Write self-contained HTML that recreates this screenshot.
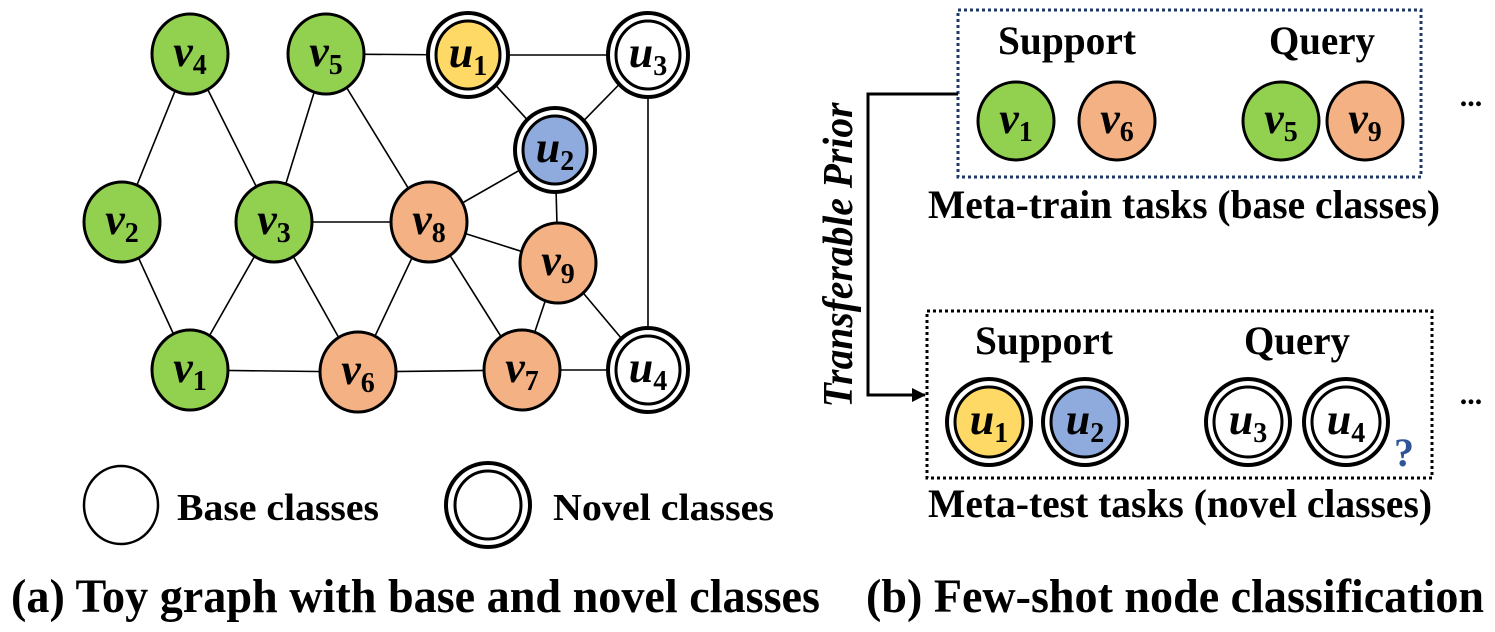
<!DOCTYPE html>
<html><head><meta charset="utf-8"><style>
html,body{margin:0;padding:0;background:#fff;}
svg{display:block;}
text{font-family:"Liberation Serif",serif;font-weight:bold;fill:#000;}
.m{font-style:italic;font-size:44px;}
.s{font-style:normal;font-size:28px;}
</style></head><body>
<svg width="1495" height="632" viewBox="0 0 1495 632" xmlns="http://www.w3.org/2000/svg">
<defs><marker id="ar" markerWidth="14" markerHeight="14" refX="13" refY="7" orient="auto" markerUnits="userSpaceOnUse"><path d="M0,0 L14,7 L0,14 z" fill="#000"/></marker></defs>
<g stroke="#000" stroke-width="1.6">
<line x1="190" y1="54" x2="122" y2="222"/>
<line x1="190" y1="54" x2="274" y2="222"/>
<line x1="122" y1="222" x2="190" y2="370"/>
<line x1="274" y1="222" x2="190" y2="370"/>
<line x1="326" y1="54" x2="274" y2="222"/>
<line x1="326" y1="54" x2="468" y2="55"/>
<line x1="326" y1="54" x2="429" y2="222"/>
<line x1="468" y1="55" x2="648" y2="55"/>
<line x1="468" y1="55" x2="555" y2="150"/>
<line x1="648" y1="55" x2="555" y2="150"/>
<line x1="648" y1="55" x2="648" y2="370"/>
<line x1="555" y1="150" x2="429" y2="222"/>
<line x1="555" y1="150" x2="558" y2="263"/>
<line x1="274" y1="222" x2="429" y2="222"/>
<line x1="274" y1="222" x2="358" y2="372"/>
<line x1="429" y1="222" x2="358" y2="372"/>
<line x1="429" y1="222" x2="558" y2="263"/>
<line x1="429" y1="222" x2="522" y2="370"/>
<line x1="558" y1="263" x2="522" y2="370"/>
<line x1="558" y1="263" x2="648" y2="370"/>
<line x1="190" y1="370" x2="358" y2="372"/>
<line x1="358" y1="372" x2="522" y2="370"/>
<line x1="522" y1="370" x2="648" y2="370"/>
</g>
<g stroke="#000" stroke-width="3">
<ellipse cx="190" cy="54" rx="38" ry="40" fill="#92d050"/>
<ellipse cx="326" cy="54" rx="38" ry="40" fill="#92d050"/>
<ellipse cx="122" cy="222" rx="38" ry="40" fill="#92d050"/>
<ellipse cx="274" cy="222" rx="38" ry="40" fill="#92d050"/>
<ellipse cx="190" cy="370" rx="38" ry="40" fill="#92d050"/>
<ellipse cx="429" cy="222" rx="38" ry="40" fill="#f4b183"/>
<ellipse cx="558" cy="263" rx="38" ry="40" fill="#f4b183"/>
<ellipse cx="358" cy="372" rx="38" ry="40" fill="#f4b183"/>
<ellipse cx="522" cy="370" rx="38" ry="40" fill="#f4b183"/>
<ellipse cx="468" cy="55" rx="40" ry="42" fill="#fff" stroke-width="4"/><ellipse cx="468" cy="55" rx="32" ry="34" fill="#ffd966"/>
<ellipse cx="555" cy="150" rx="40" ry="42" fill="#fff" stroke-width="4"/><ellipse cx="555" cy="150" rx="32" ry="34" fill="#8faadc"/>
<ellipse cx="648" cy="55" rx="40" ry="42" fill="#fff" stroke-width="4"/><ellipse cx="648" cy="55" rx="32" ry="34" fill="#fff"/>
<ellipse cx="648" cy="370" rx="40" ry="42" fill="#fff" stroke-width="4"/><ellipse cx="648" cy="370" rx="32" ry="34" fill="#fff"/>
</g>
<g text-anchor="middle">
<text x="190" y="66" class="m">v<tspan class="s" dy="8">4</tspan></text>
<text x="326" y="66" class="m">v<tspan class="s" dy="8">5</tspan></text>
<text x="122" y="234" class="m">v<tspan class="s" dy="8">2</tspan></text>
<text x="274" y="234" class="m">v<tspan class="s" dy="8">3</tspan></text>
<text x="190" y="382" class="m">v<tspan class="s" dy="8">1</tspan></text>
<text x="429" y="234" class="m">v<tspan class="s" dy="8">8</tspan></text>
<text x="558" y="275" class="m">v<tspan class="s" dy="8">9</tspan></text>
<text x="358" y="384" class="m">v<tspan class="s" dy="8">6</tspan></text>
<text x="522" y="382" class="m">v<tspan class="s" dy="8">7</tspan></text>
<text x="468" y="67" class="m">u<tspan class="s" dy="8">1</tspan></text>
<text x="555" y="162" class="m">u<tspan class="s" dy="8">2</tspan></text>
<text x="648" y="67" class="m">u<tspan class="s" dy="8">3</tspan></text>
<text x="648" y="382" class="m">u<tspan class="s" dy="8">4</tspan></text>
</g>
<!-- legend -->
<ellipse cx="121" cy="505" rx="37" ry="39" fill="#fff" stroke="#000" stroke-width="2.5"/>
<text x="177" y="520" font-size="38" textLength="202" lengthAdjust="spacingAndGlyphs">Base classes</text>
<ellipse cx="488" cy="505" rx="42" ry="42" fill="#fff" stroke="#000" stroke-width="4"/>
<ellipse cx="488" cy="505" rx="33" ry="34" fill="#fff" stroke="#000" stroke-width="3"/>
<text x="553" y="520" font-size="38" textLength="221" lengthAdjust="spacingAndGlyphs">Novel classes</text>
<text x="11" y="612" font-size="48" textLength="809" lengthAdjust="spacingAndGlyphs">(a) Toy graph with base and novel classes</text>
<text x="866" y="612" font-size="48" textLength="618" lengthAdjust="spacingAndGlyphs">(b) Few-shot node classification</text>
<!-- right panel -->
<rect x="958" y="10" width="463" height="167" fill="none" stroke="#1f3864" stroke-width="3" stroke-dasharray="3,3"/>
<rect x="927" y="311" width="505" height="167" fill="none" stroke="#000" stroke-width="3" stroke-dasharray="3,3"/>
<polyline points="958,94 868,94 868,395 925,395" fill="none" stroke="#000" stroke-width="3" marker-end="url(#ar)"/>
<text transform="translate(852,255) rotate(-90)" text-anchor="middle" font-size="42" font-style="italic" textLength="305" lengthAdjust="spacingAndGlyphs">Transferable Prior</text>
<text x="1067" y="54" font-size="40" text-anchor="middle" textLength="138" lengthAdjust="spacingAndGlyphs">Support</text>
<text x="1322" y="54" font-size="40" text-anchor="middle" textLength="106" lengthAdjust="spacingAndGlyphs">Query</text>
<g stroke="#000" stroke-width="3">
<ellipse cx="1016" cy="121" rx="38" ry="39" fill="#92d050"/>
<ellipse cx="1117" cy="121" rx="38" ry="39" fill="#f4b183"/>
<ellipse cx="1281" cy="121" rx="38" ry="39" fill="#92d050"/>
<ellipse cx="1365" cy="121" rx="38" ry="39" fill="#f4b183"/>
<ellipse cx="989" cy="422" rx="42" ry="43" fill="#fff" stroke-width="4"/><ellipse cx="989" cy="422" rx="34" ry="35" fill="#ffd966"/>
<ellipse cx="1085" cy="422" rx="42" ry="43" fill="#fff" stroke-width="4"/><ellipse cx="1085" cy="422" rx="34" ry="35" fill="#8faadc"/>
<ellipse cx="1248" cy="422" rx="42" ry="43" fill="#fff" stroke-width="4"/><ellipse cx="1248" cy="422" rx="34" ry="35" fill="#fff"/>
<ellipse cx="1346" cy="422" rx="42" ry="43" fill="#fff" stroke-width="4"/><ellipse cx="1346" cy="422" rx="34" ry="35" fill="#fff"/>
</g>
<g text-anchor="middle">
<text x="1016" y="133" class="m">v<tspan class="s" dy="8">1</tspan></text>
<text x="1117" y="133" class="m">v<tspan class="s" dy="8">6</tspan></text>
<text x="1281" y="133" class="m">v<tspan class="s" dy="8">5</tspan></text>
<text x="1365" y="133" class="m">v<tspan class="s" dy="8">9</tspan></text>
<text x="989" y="434" class="m">u<tspan class="s" dy="8">1</tspan></text>
<text x="1085" y="434" class="m">u<tspan class="s" dy="8">2</tspan></text>
<text x="1248" y="434" class="m">u<tspan class="s" dy="8">3</tspan></text>
<text x="1346" y="434" class="m">u<tspan class="s" dy="8">4</tspan></text>
</g>
<text x="1044" y="354" font-size="40" text-anchor="middle" textLength="138" lengthAdjust="spacingAndGlyphs">Support</text>
<text x="1297" y="354" font-size="40" text-anchor="middle" textLength="106" lengthAdjust="spacingAndGlyphs">Query</text>
<text x="1404" y="466" font-size="40" text-anchor="middle" style="fill:#2f5597">?</text>
<text x="1471" y="106" font-size="30" text-anchor="middle">...</text>
<text x="1471" y="404" font-size="30" text-anchor="middle">...</text>
<text x="928" y="218" font-size="40" textLength="512" lengthAdjust="spacingAndGlyphs">Meta-train tasks (base classes)</text>
<text x="928" y="517" font-size="40" textLength="504" lengthAdjust="spacingAndGlyphs">Meta-test tasks (novel classes)</text>
</svg>
</body></html>
